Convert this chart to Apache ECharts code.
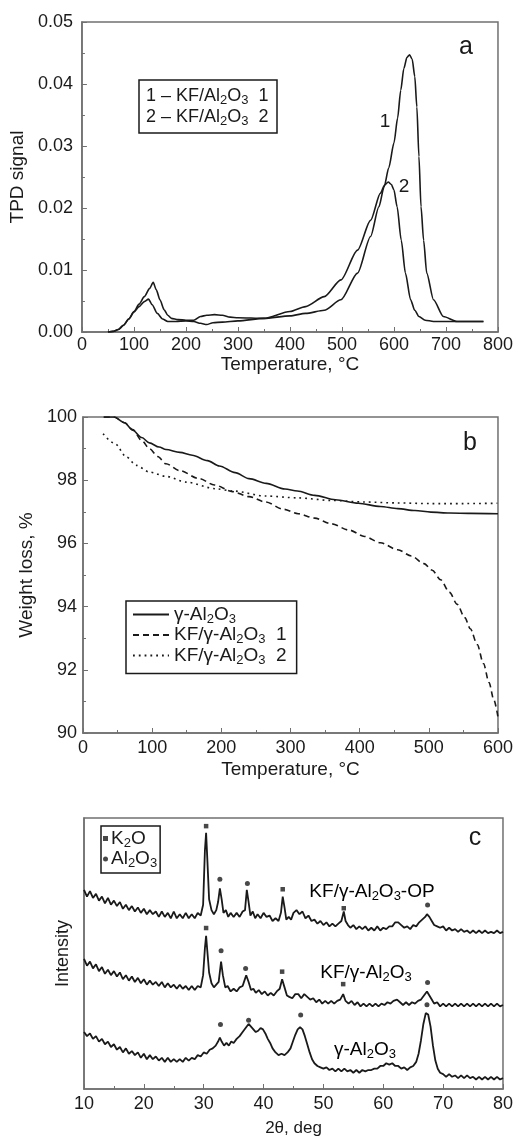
<!DOCTYPE html>
<html>
<head>
<meta charset="utf-8">
<script src="https://cdn.jsdelivr.net/npm/echarts@6/dist/echarts.min.js"></script>
<style>
  html, body { margin: 0; padding: 0; background: #fff; }
  #chart { width: 516px; height: 1138px; }
</style>
</head>
<body>
<div id="chart"></div>
<script>
// ---- panel a: TPD curves ----
const tpdTemp1 = [50, 60, 70, 80, 90, 100, 110, 120, 130, 137, 143, 150, 158, 165, 172, 185, 200, 215, 228, 240, 255, 270, 285, 300, 350, 400, 430, 466, 498, 530, 555, 571, 581, 590, 600, 607, 613, 619, 625, 630, 635, 640, 644, 648, 652, 657, 663, 676, 695, 721, 750, 772]
const tpdSignal1 = [0, 0.0001, 0.0004, 0.0011, 0.0021, 0.0033, 0.0045, 0.0057, 0.007, 0.008, 0.0068, 0.0052, 0.0036, 0.0027, 0.0022, 0.002, 0.0019, 0.0019, 0.0025, 0.0027, 0.0028, 0.0027, 0.0024, 0.0023, 0.0022, 0.0026, 0.003, 0.0035, 0.0052, 0.0095, 0.0154, 0.0202, 0.0234, 0.0265, 0.0305, 0.0345, 0.039, 0.0425, 0.0443, 0.0447, 0.044, 0.0412, 0.0363, 0.0283, 0.0202, 0.0148, 0.0095, 0.0052, 0.0025, 0.0017, 0.0017, 0.0017]
const tpdTemp2 = [50, 60, 70, 80, 90, 100, 110, 120, 128, 135, 145, 155, 165, 180, 200, 215, 228, 240, 252, 270, 300, 350, 400, 430, 466, 498, 530, 555, 574, 582, 589, 595, 600, 606, 614, 622, 632, 640, 648, 660, 676, 700, 750, 772]
const tpdSignal2 = [0, 0.0001, 0.0004, 0.0011, 0.0021, 0.0032, 0.0041, 0.0049, 0.0053, 0.0044, 0.003, 0.0021, 0.0017, 0.0017, 0.0018, 0.0017, 0.0014, 0.0012, 0.0015, 0.0016, 0.0018, 0.0022, 0.0033, 0.0041, 0.0057, 0.0084, 0.0132, 0.018, 0.0224, 0.0237, 0.0242, 0.0238, 0.0229, 0.0202, 0.0148, 0.0095, 0.0052, 0.0035, 0.0025, 0.0019, 0.0017, 0.0017, 0.0017, 0.0017]

// ---- panel b: weight loss ----
const tgTempAl = [30, 45, 60, 72, 85, 96, 110, 120, 140, 158, 180, 197, 220, 240, 265, 292, 310, 335, 365, 398, 430, 455, 480, 503, 530, 560, 600]
const tgLossAl = [100, 100, 99.82, 99.58, 99.35, 99.18, 99.05, 98.97, 98.88, 98.79, 98.62, 98.45, 98.24, 98.05, 97.9, 97.72, 97.66, 97.52, 97.38, 97.27, 97.17, 97.1, 97.04, 96.99, 96.96, 96.95, 96.94]
const tgTempKf1 = [30, 45, 60, 72, 85, 96, 108, 120, 140, 168, 190, 216, 240, 264, 290, 311, 335, 359, 385, 407, 430, 455, 475, 493, 505, 517, 530, 541, 552, 560, 570, 579, 587, 594, 600]
const tgLossKf1 = [100, 100, 99.82, 99.6, 99.25, 99.0, 98.75, 98.52, 98.3, 98.05, 97.85, 97.64, 97.48, 97.31, 97.08, 96.94, 96.8, 96.62, 96.42, 96.22, 96.02, 95.8, 95.6, 95.36, 95.15, 94.85, 94.45, 94.07, 93.65, 93.3, 92.8, 92.2, 91.6, 91.05, 90.5]
const tgTempKf2 = [29, 46, 63, 77, 96, 120, 149, 192, 216, 264, 311, 359, 407, 455, 503, 550, 599]
const tgLossKf2 = [99.47, 99.16, 98.73, 98.47, 98.26, 98.12, 97.94, 97.73, 97.66, 97.5, 97.44, 97.36, 97.31, 97.28, 97.26, 97.26, 97.27]

// ---- panel c: XRD patterns [2theta, intensity a.u.] ----
const xrdKfOp = [[10,73.5],[10.5,71],[11,73],[11.5,70.5],[12,72],[12.5,69.5],[13,71],[13.5,68.5],[14,70.5],[14.5,68],[15,69.5],[15.5,67.5],[16,69],[16.5,66.5],[17,68],[17.5,66],[18,67.5],[18.5,65.5],[19,67],[19.5,65],[20,66.5],[20.5,64.5],[21,66],[21.5,64.5],[22,65.5],[22.5,63.5],[23,65.5],[23.5,63.5],[24,65],[24.5,63],[25,65.5],[25.5,63],[26,64.5],[26.5,63],[27,65],[27.5,63],[28,64.5],[28.5,63],[29,65],[29.5,64],[29.9,68],[30.2,88],[30.4,94.5],[30.6,85],[30.9,70],[31.3,66],[31.7,64.5],[32.1,66],[32.4,69],[32.7,74],[33,70],[33.3,65],[33.7,66],[34.1,63.5],[34.5,65],[35,63.5],[35.5,65],[36,63.5],[36.5,65.5],[36.9,66],[37.2,73.5],[37.5,69],[37.8,64],[38.2,65.5],[38.6,63],[39,64.5],[39.5,63],[40,65],[40.5,63.5],[41,64],[41.5,62],[42,63],[42.5,62],[42.9,65],[43.2,71],[43.5,67],[43.8,62.5],[44.2,63.5],[44.6,62.5],[45,65],[45.5,66],[46,64.5],[46.5,65.5],[47,63],[47.5,64],[48,62],[48.5,62.5],[49,61],[49.5,62],[50,60.5],[50.5,61.5],[51,60],[51.5,61],[52,60],[52.5,61],[53,62],[53.4,65.5],[53.7,62],[54.1,60.5],[54.5,59.5],[55,60.5],[55.5,59],[56,60],[56.5,59],[57,60],[57.5,58.5],[58,59.5],[58.5,58.5],[59,60],[59.5,58.5],[60,59.5],[60.5,59],[61,60],[61.5,60],[62,61.5],[62.5,61.5],[63,60.5],[63.5,59.5],[64,60],[64.5,59],[65,60.5],[65.5,60],[66,61.5],[66.5,62.5],[67,63.5],[67.3,64.5],[67.7,63.5],[68.1,62],[68.5,60.5],[69,60],[69.5,59.5],[70,60],[70.5,58.5],[71,59.5],[71.5,58.5],[72,59],[72.5,58],[73,59],[73.5,58],[74,58.5],[74.5,57.5],[75,58.5],[75.5,57.5],[76,58.5],[76.5,57.5],[77,58.5],[77.5,57.5],[78,58],[78.5,57.5],[79,58.5],[79.5,57.5],[80,58]]
const xrdKf = [[10,48],[10.5,45.5],[11,47],[11.5,44.5],[12,46],[12.5,43.5],[13,45],[13.5,42.5],[14,44],[14.5,42],[15,43.5],[15.5,41.5],[16,43],[16.5,40.5],[17,42],[17.5,40],[18,41.5],[18.5,39.5],[19,41],[19.5,39],[20,40.5],[20.5,38.5],[21,40],[21.5,38.5],[22,39.5],[22.5,38],[23,39.5],[23.5,37.5],[24,39],[24.5,37.5],[25,38.5],[25.5,37],[26,38.5],[26.5,37],[27,38],[27.5,36.5],[28,38],[28.5,36.5],[29,38],[29.5,37.5],[29.9,42],[30.2,52],[30.4,56.5],[30.6,51],[30.9,43],[31.3,39],[31.7,37.5],[32.1,38.5],[32.5,39.5],[32.9,47],[33.2,42],[33.6,37.5],[34,38],[34.5,36],[35,37],[35.5,36],[36,37.5],[36.5,38],[36.8,40],[37.1,42],[37.5,39.5],[37.9,36.5],[38.3,37],[38.7,35.5],[39.2,36.5],[39.7,35],[40.2,36],[40.7,34.5],[41.2,35.5],[41.7,34.5],[42.2,36],[42.7,37],[43.1,40.5],[43.5,37.5],[43.9,34.5],[44.3,34],[44.8,33.5],[45.3,35],[45.8,35],[46.3,33.5],[46.8,35],[47.3,34],[47.8,33],[48.3,33.5],[48.8,32],[49.3,33],[49.8,31.5],[50.3,32.5],[50.8,31.5],[51.3,32.5],[51.8,31.5],[52.3,32.5],[52.8,33],[53.3,35],[53.7,32.5],[54.2,31.5],[54.7,32.5],[55.2,31],[55.7,32],[56.2,30.5],[56.7,31.5],[57.2,30.5],[57.7,31.5],[58.2,30.5],[58.7,31.5],[59.2,30.5],[59.7,31.5],[60.2,31],[60.7,32],[61.2,31.5],[61.7,32.5],[62.3,33],[62.8,32],[63.3,31],[63.8,32],[64.3,31],[64.8,32],[65.3,31.5],[65.8,32.5],[66.3,33],[66.8,34.5],[67.3,36],[67.7,34.5],[68.1,33],[68.5,31.5],[69,32],[69.5,30.5],[70,31.5],[70.5,30.5],[71,31.5],[71.5,30.5],[72,31.5],[72.5,30.5],[73,31.5],[73.5,30.5],[74,31.5],[74.5,30.5],[75,31.5],[75.5,30.5],[76,31.5],[76.5,30.5],[77,31.5],[77.5,30.5],[78,31.5],[78.5,30.5],[79,31.5],[79.5,30.5],[80,31]]
const xrdAl = [[10,21],[10.5,19.5],[11,20.5],[11.5,18.5],[12,19.5],[12.5,17.5],[13,18.5],[13.5,16.5],[14,17.5],[14.5,15.5],[15,16.5],[15.5,14.5],[16,15.5],[16.5,13.5],[17,15],[17.5,13],[18,14],[18.5,12.5],[19,13.5],[19.5,11.5],[20,13],[20.5,11],[21,12.5],[21.5,11],[22,12],[22.5,10.5],[23,11.5],[23.5,10],[24,11.5],[24.5,10],[25,11],[25.5,10],[26,11],[26.5,10],[27,11.5],[27.5,10.5],[28,11.5],[28.5,11],[29,12.5],[29.5,12],[30,13.5],[30.5,13],[31,14.5],[31.5,15],[32,16],[32.4,17.5],[32.7,19],[33,17.5],[33.4,16],[33.8,17],[34.2,16],[34.6,17.5],[35,17],[35.5,18.5],[36,19.5],[36.5,21],[37,22.5],[37.5,24],[37.9,23],[38.3,22],[38.7,21],[39.1,21.5],[39.5,22.5],[39.9,22],[40.3,20.5],[40.7,18.5],[41.1,17],[41.5,15],[42,13.5],[42.5,12.5],[43,13],[43.5,12.5],[44,13.5],[44.5,15],[44.9,17.5],[45.3,20],[45.7,22],[46.1,22.8],[46.5,22],[46.9,19.5],[47.3,16.5],[47.7,13.5],[48.1,11],[48.5,9.5],[49,8.5],[49.5,8],[50,7.5],[50.5,8],[51,7],[51.5,7.5],[52,6.5],[52.5,7.5],[53,6.5],[53.5,7.5],[54,6.5],[54.5,7],[55,6],[55.5,7],[56,6],[56.5,7],[57,6.5],[57.5,7],[58,7],[58.5,7.5],[59,7.5],[59.5,8.5],[60,8.5],[60.5,9.5],[61,9],[61.5,9.5],[62,8.5],[62.5,8.5],[63,7.5],[63.5,8],[64,7],[64.5,8],[65,8.5],[65.5,10],[65.9,13],[66.3,18],[66.7,24],[67.1,28],[67.5,27.5],[67.9,23],[68.3,16],[68.7,10.5],[69.1,7.5],[69.5,6],[70,5.5],[70.5,4.5],[71,5.5],[71.5,4.5],[72,5],[72.5,4],[73,5],[73.5,4],[74,5],[74.5,4],[75,4.5],[75.5,3.5],[76,4.5],[76.5,3.5],[77,4.5],[77.5,3.5],[78,4.5],[78.5,3.5],[79,4.5],[79.5,3.5],[80,4]]
// peak markers
const k2oPeaks = [[30.4, 97], [43.2, 73.7], [53.4, 66.7], [30.4, 59.4], [43.1, 43.3], [53.3, 38.7]]
const al2o3Peaks = [[32.7, 77.4], [37.3, 75.8], [67.4, 67.9], [32.9, 51], [37.0, 44.5], [67.4, 39.3], [32.8, 23.8], [37.5, 25.4], [46.2, 27.3], [67.3, 31.1]]

const FONT = '"Liberation Sans", Arial, sans-serif'
const INK = '#1a1a1a'
const FRAME = '#707070'

const zip = (xs, ys) => xs.map((x, i) => [x, ys[i]])

// rich text for subscripts (two sizes)
const makeRich = (size) => ({
  n: { fontSize: size, fontFamily: FONT, color: INK, lineHeight: size + 3 },
  s: { fontSize: Math.round(size * 0.7), fontFamily: FONT, color: INK, lineHeight: Math.round(size * 0.78), verticalAlign: 'bottom' },
})
const rich18 = makeRich(18)
const rich19 = makeRich(19)

const legendNames = {
  'γ-Al2O3': '{n|γ-Al}{s|2}{n|O}{s|3}',
  'KF/γ-Al2O3 1': '{n|KF/γ-Al}{s|2}{n|O}{s|3}{n|  1}',
  'KF/γ-Al2O3 2': '{n|KF/γ-Al}{s|2}{n|O}{s|3}{n|  2}',
  'K2O': '{n|K}{s|2}{n|O}',
  'Al2O3': '{n|Al}{s|2}{n|O}{s|3}',
}

function axisBase() {
  return {
    axisLine: { show: true, onZero: false, lineStyle: { color: FRAME, width: 1.5 } },
    axisTick: { show: true, inside: true, length: 5, lineStyle: { color: FRAME, width: 1 } },
    minorTick: { show: true, splitNumber: 2, length: 3, lineStyle: { color: FRAME } },
    splitLine: { show: false },
    axisLabel: { color: INK, fontSize: 18, fontFamily: FONT },
    nameLocation: 'middle',
    nameTextStyle: { color: INK, fontSize: 19, fontFamily: FONT },
  }
}

const grids = [
  { left: 79, top: 22, width: 419, height: 310 },
  { left: 83, top: 417, width: 418, height: 316 },
  { left: 84, top: 818, width: 421, height: 274 },
].map((g) => Object.assign({ show: true, borderColor: FRAME, borderWidth: 1.5, backgroundColor: 'transparent' }, g))

const xAxes = [
  Object.assign(axisBase(), { gridIndex: 0, type: 'value', min: 0, max: 800, interval: 100, name: 'Temperature, °C', nameGap: 16 }),
  Object.assign(axisBase(), { gridIndex: 1, type: 'value', min: 0, max: 600, interval: 100, name: 'Temperature, °C', nameGap: 27 }),
  Object.assign(axisBase(), { gridIndex: 2, type: 'value', min: 10, max: 80, interval: 10, name: '2θ, deg', nameGap: 31 }),
]
xAxes[0].axisLabel = Object.assign({}, xAxes[0].axisLabel, { margin: 4 })
xAxes[1].axisLabel = Object.assign({}, xAxes[1].axisLabel, { margin: 6 })
xAxes[2].axisLabel = Object.assign({}, xAxes[2].axisLabel, { margin: 6 })
xAxes[2].nameTextStyle = Object.assign({}, xAxes[2].nameTextStyle, { fontSize: 17 })

const yAxes = [
  Object.assign(axisBase(), { gridIndex: 0, type: 'value', min: 0, max: 0.05, interval: 0.01, name: 'TPD signal', nameGap: 47 }),
  Object.assign(axisBase(), { gridIndex: 1, type: 'value', min: 90, max: 100, interval: 2, name: 'Weight loss, %', nameGap: 43 }),
  Object.assign(axisBase(), { gridIndex: 2, type: 'value', min: 0, max: 100, name: 'Intensity', nameGap: 12 }),
]
yAxes[0].axisLabel = Object.assign({}, yAxes[0].axisLabel, { margin: 9, formatter: (v) => v.toFixed(2) })
yAxes[1].axisLabel = Object.assign({}, yAxes[1].axisLabel, { margin: 6 })
yAxes[2].axisLabel = { show: false }
yAxes[2].axisTick = { show: false }
yAxes[2].minorTick = { show: false }
yAxes[2].nameTextStyle = Object.assign({}, yAxes[2].nameTextStyle, { fontSize: 18 })

const lineSeries = (name, xi, data, type, smooth, width) => ({
  name: name,
  type: 'line',
  xAxisIndex: xi,
  yAxisIndex: xi,
  data: data,
  symbol: 'none',
  smooth: smooth,
  smoothMonotone: smooth ? 'x' : undefined,
  lineStyle: { color: INK, width: width, type: type },
  itemStyle: { color: INK },
  z: 3,
})

const chart = echarts.init(document.getElementById('chart'), null, { renderer: 'canvas' })

const option = {
  animation: false,
  backgroundColor: '#fff',
  textStyle: { fontFamily: FONT },
  grid: grids,
  xAxis: xAxes,
  yAxis: yAxes,
  legend: [
    {
      data: ['γ-Al2O3', 'KF/γ-Al2O3 1', 'KF/γ-Al2O3 2'],
      orient: 'vertical',
      left: 126,
      top: 601,
      itemWidth: 36,
      itemHeight: 14,
      itemGap: 0,
      padding: [4, 10, 7, 6],
      borderColor: INK,
      borderWidth: 1.5,
      backgroundColor: '#fff',
      itemStyle: { opacity: 0 },
      textStyle: { rich: rich19, fontSize: 19, color: INK },
      formatter: (name) => legendNames[name],
      selectedMode: false,
    },
    {
      data: [
        { name: 'K2O', icon: 'rect' },
        { name: 'Al2O3', icon: 'circle' },
      ],
      orient: 'vertical',
      left: 101,
      top: 826,
      itemWidth: 5,
      itemHeight: 5,
      itemGap: 0,
      padding: [3, 3, 3, 2],
      borderColor: INK,
      borderWidth: 1.5,
      backgroundColor: '#fff',
      textStyle: { rich: rich19, fontSize: 19, color: INK, padding: [0, 0, 0, -2] },
      formatter: (name) => legendNames[name],
      selectedMode: false,
    },
  ],
  series: [
    lineSeries('TPD 1', 0, zip(tpdTemp1, tpdSignal1), 'solid', 0.25, 1.6),
    lineSeries('TPD 2', 0, zip(tpdTemp2, tpdSignal2), 'solid', 0.25, 1.6),
    lineSeries('γ-Al2O3', 1, zip(tgTempAl, tgLossAl), 'solid', 0.3, 1.6),
    lineSeries('KF/γ-Al2O3 1', 1, zip(tgTempKf1, tgLossKf1), [6, 4], 0.3, 1.6),
    lineSeries('KF/γ-Al2O3 2', 1, zip(tgTempKf2, tgLossKf2), [1.8, 4], 0.3, 1.6),
    lineSeries('KF/γ-Al2O3-OP', 2, xrdKfOp, 'solid', false, 1.8),
    lineSeries('KF/γ-Al2O3 xrd', 2, xrdKf, 'solid', false, 1.8),
    lineSeries('γ-Al2O3 xrd', 2, xrdAl, 'solid', false, 1.8),
    {
      name: 'K2O', type: 'scatter', xAxisIndex: 2, yAxisIndex: 2,
      data: k2oPeaks, symbol: 'rect', symbolSize: 4.5, itemStyle: { color: INK }, z: 4,
    },
    {
      name: 'Al2O3', type: 'scatter', xAxisIndex: 2, yAxisIndex: 2,
      data: al2o3Peaks, symbol: 'circle', symbolSize: 5, itemStyle: { color: INK }, z: 4,
    },
  ],
  graphic: [
    // panel a legend box
    {
      type: 'rect', x: 139, y: 80, shape: { width: 138, height: 53 }, z: 10,
      style: { fill: '#fff', stroke: INK, lineWidth: 1.5 },
    },
    {
      type: 'text', x: 146, y: 86, z: 11,
      style: {
        text: '{n|1 – KF/Al}{s|2}{n|O}{s|3}{n|  1}\n{n|2 – KF/Al}{s|2}{n|O}{s|3}{n|  2}',
        rich: rich18, fill: INK, verticalAlign: 'top',
      },
    },
    // curve numbers
    { type: 'text', x: 385, y: 122, z: 11, style: { text: '1', font: '19px ' + FONT, fill: INK, align: 'center', verticalAlign: 'middle' } },
    { type: 'text', x: 404, y: 187, z: 11, style: { text: '2', font: '19px ' + FONT, fill: INK, align: 'center', verticalAlign: 'middle' } },
    // panel letters
    { type: 'text', x: 466, y: 47, z: 11, style: { text: 'a', font: '25px ' + FONT, fill: INK, align: 'center', verticalAlign: 'middle' } },
    { type: 'text', x: 470, y: 443, z: 11, style: { text: 'b', font: '25px ' + FONT, fill: INK, align: 'center', verticalAlign: 'middle' } },
    { type: 'text', x: 475, y: 838, z: 11, style: { text: 'c', font: '25px ' + FONT, fill: INK, align: 'center', verticalAlign: 'middle' } },
    // XRD curve labels
    {
      type: 'text', x: 372, y: 892, z: 11,
      style: { text: '{n|KF/γ-Al}{s|2}{n|O}{s|3}{n|-OP}', rich: rich19, align: 'center', verticalAlign: 'middle' },
    },
    {
      type: 'text', x: 366, y: 973, z: 11,
      style: { text: '{n|KF/γ-Al}{s|2}{n|O}{s|3}', rich: rich19, align: 'center', verticalAlign: 'middle' },
    },
    {
      type: 'text', x: 365, y: 1050, z: 11,
      style: { text: '{n|γ-Al}{s|2}{n|O}{s|3}', rich: rich19, align: 'center', verticalAlign: 'middle' },
    },
  ],
}

chart.setOption(option)
</script>
</body>
</html>
